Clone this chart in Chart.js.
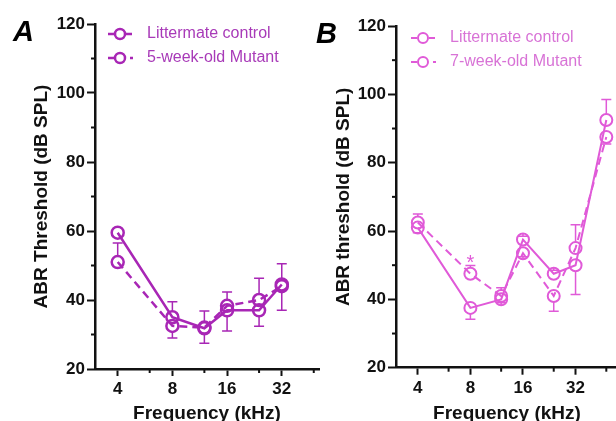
<!DOCTYPE html>
<html>
<head>
<meta charset="utf-8">
<script src="https://cdn.jsdelivr.net/npm/chart.js@4"></script>
<style>
  html, body { margin: 0; padding: 0; background: #fff; overflow: hidden; width: 616px; height: 421px; }
  .wrap { position: absolute; top: 0; }
</style>
</head>
<body>
<div class="wrap" style="left:0"><canvas id="chartA" width="330" height="440"></canvas></div>
<div class="wrap" style="left:310px"><canvas id="chartB" width="320" height="440"></canvas></div>
<script>
// panel A - 5 weeks
const freqsA = [4, 8, 12, 16, 24, 32];
const controlA = [59.5, 35, 31.8, 37, 37, 44.5];
const mutantA = [51, 32.5, 32, 38.3, 40, 44];
// error bar size, + drawn up, - drawn down, 0 = none
const controlErrA = [0, 4.5, 5, -6, -4.6, -7.5];
const mutantErrA = [5.5, -3.5, -4.5, 4, 6.3, 6.5];

// panel B - 7 weeks
const freqsB = [4, 8, 12, 16, 24, 32, 48];
const controlB = [61, 37.5, 40, 57.5, 47.5, 50, 92.5];
const mutantB = [62.5, 47.5, 41, 53.5, 41, 55, 87.5];
const controlErrB = [-1.5, -3.3, -1, 1, 1, -8.6, 6];
const mutantErrB = [2.5, 2.4, 2.4, -1, -4.5, 6.8, -2];
const starsB = [8];
const starLevelB = [49];

const xMajor = [4, 8, 16, 32];
const xMinor = [6, 12, 24, 48];
const yMinor = [30, 50, 70, 90, 110];

const FONT = 'Arial, "Liberation Sans", sans-serif';

const extras = {
    id: 'extras',
    beforeDatasetsDraw(chart) {
        const ctx = chart.ctx;
        const y = chart.scales.y;
        chart.data.datasets.forEach((d, i) => {
            const meta = chart.getDatasetMeta(i);
            ctx.save();
            ctx.strokeStyle = d.borderColor;
            ctx.lineWidth = 1.5;
            d.errs.forEach((e, j) => {
                if (!e) return;
                const p = meta.data[j];
                const yEnd = y.getPixelForValue(d.data[j].y + e);
                const yStart = p.y + (e > 0 ? -6 : 6);
                ctx.beginPath();
                ctx.moveTo(p.x, yStart);
                ctx.lineTo(p.x, yEnd);
                ctx.moveTo(p.x - 5, yEnd);
                ctx.lineTo(p.x + 5, yEnd);
                ctx.stroke();
            });
            ctx.restore();
        });
    },
    afterDraw(chart) {
        const o = chart.options.plugins.extras;
        const ctx = chart.ctx;
        const xs = chart.scales.x, ys = chart.scales.y;
        const area = chart.chartArea;
        ctx.save();
        // minor ticks
        ctx.strokeStyle = '#111';
        ctx.lineWidth = 2;
        yMinor.forEach(v => {
            const py = ys.getPixelForValue(v);
            ctx.beginPath();
            ctx.moveTo(area.left, py);
            ctx.lineTo(area.left - 4, py);
            ctx.stroke();
        });
        xMinor.forEach(v => {
            const px = xs.getPixelForValue(v);
            ctx.beginPath();
            ctx.moveTo(px, area.bottom);
            ctx.lineTo(px, area.bottom + 4);
            ctx.stroke();
        });

        // panel letter
        ctx.fillStyle = '#000';
        ctx.font = 'italic bold 29px ' + FONT;
        ctx.textBaseline = 'alphabetic';
        ctx.fillText(o.letter, o.letterX, o.letterY);

        // legend
        chart.data.datasets.forEach((d, i) => {
            const cy = o.legendY + i * 24;
            const cx = o.legendX;
            ctx.strokeStyle = o.color;
            ctx.lineWidth = o.lineWidth;
            ctx.beginPath();
            if (d.dashed) {
                ctx.moveTo(cx - 12, cy);
                ctx.lineTo(cx - 6, cy);
                ctx.moveTo(cx + 10, cy);
                ctx.lineTo(cx + 13, cy);
            } else {
                ctx.moveTo(cx - 12, cy);
                ctx.lineTo(cx - 6, cy);
                ctx.moveTo(cx + 6, cy);
                ctx.lineTo(cx + 12, cy);
            }
            ctx.stroke();
            ctx.beginPath();
            ctx.arc(cx, cy, 5, 0, Math.PI * 2);
            ctx.stroke();
            ctx.fillStyle = o.textColor;
            ctx.font = '16px ' + FONT;
            ctx.textBaseline = 'middle';
            ctx.fillText(d.label, o.legendX + 27, cy);
        });

        // significance marks
        (o.stars || []).forEach((f, k) => {
            ctx.fillStyle = o.color;
            ctx.font = '20px ' + FONT;
            ctx.textAlign = 'center';
            ctx.textBaseline = 'alphabetic';
            ctx.fillText('*', xs.getPixelForValue(f), ys.getPixelForValue(o.starLevel[k]));
        });
        ctx.restore();
    }
};

function buildChart(id, o) {
    const ds = (label, vals, errs, dashed) => ({
        label: label,
        data: o.freqs.map((f, i) => ({ x: f, y: vals[i] })),
        errs: errs,
        dashed: dashed,
        borderColor: o.color,
        backgroundColor: 'rgba(0,0,0,0)',
        borderWidth: o.lineWidth,
        borderDash: dashed ? [8, 5] : [],
        pointRadius: 6,
        pointBorderWidth: o.lineWidth,
        pointBackgroundColor: 'rgba(0,0,0,0)',
        pointBorderColor: o.color,
        tension: 0
    });

    return new Chart(document.getElementById(id), {
        type: 'line',
        data: {
            datasets: [
                ds('Littermate control', o.control, o.controlErr, false),
                ds(o.mutantLabel, o.mutant, o.mutantErr, true)
            ]
        },
        options: {
            responsive: false,
            animation: false,
            layout: { padding: { left: o.padLeft, top: o.padTop, right: o.padRight, bottom: 0 } },
            plugins: { legend: { display: false }, tooltip: { enabled: false }, extras: o },
            scales: {
                x: {
                    type: 'logarithmic',
                    min: 3,
                    max: o.xMax,
                    afterBuildTicks: s => { s.ticks = xMajor.map(v => ({ value: v })); },
                    afterFit: s => { s.height = 440 - o.areaBottom; },
                    border: { color: '#111', width: 2.5 },
                    grid: { drawOnChartArea: false, tickLength: 7, tickWidth: 2, tickColor: '#111' },
                    ticks: {
                        color: '#111', padding: 3, autoSkip: false, maxRotation: 0,
                        font: { family: FONT, size: 17, weight: 'bold' },
                        callback: v => String(v)
                    },
                    title: {
                        display: true, text: 'Frequency (kHz)', color: '#111',
                        font: { family: FONT, size: 19, weight: 'bold' },
                        padding: { top: 0, bottom: 15 }
                    }
                },
                y: {
                    min: 20,
                    max: 120,
                    afterFit: s => { s.width = o.axisLeft - o.padLeft; },
                    border: { color: '#111', width: 2.5 },
                    grid: { drawOnChartArea: false, tickLength: 8, tickWidth: 2, tickColor: '#111' },
                    ticks: {
                        stepSize: 20, color: '#111', padding: 2,
                        font: { family: FONT, size: 17, weight: 'bold' }
                    },
                    title: {
                        display: true, text: o.yTitle, color: '#111',
                        font: { family: FONT, size: 19, weight: 'bold' },
                        padding: { top: 0, bottom: 0 }
                    }
                }
            }
        },
        plugins: [extras]
    });
}

buildChart('chartA', {
    freqs: freqsA, control: controlA, mutant: mutantA,
    controlErr: controlErrA, mutantErr: mutantErrA,
    mutantLabel: '5-week-old Mutant',
    yTitle: 'ABR Threshold (dB SPL)',
    color: '#a826b5', textColor: '#a83ab8', lineWidth: 2.5,
    padLeft: 30, axisLeft: 95, padTop: 24, padRight: 11, areaBottom: 369, xMax: 51.3,
    letter: 'A', letterX: 13, letterY: 41,
    legendX: 120, legendY: 34
});

buildChart('chartB', {
    freqs: freqsB, control: controlB, mutant: mutantB,
    controlErr: controlErrB, mutantErr: mutantErrB,
    mutantLabel: '7-week-old Mutant',
    yTitle: 'ABR threshold (dB SPL)',
    color: '#e05ad8', textColor: '#d873d6', lineWidth: 2,
    padLeft: 22, axisLeft: 86, padTop: 26, padRight: 12, areaBottom: 367.7, xMax: 56,
    letter: 'B', letterX: 6, letterY: 43,
    legendX: 113, legendY: 38,
    stars: starsB, starLevel: starLevelB
});
</script>
</body>
</html>
